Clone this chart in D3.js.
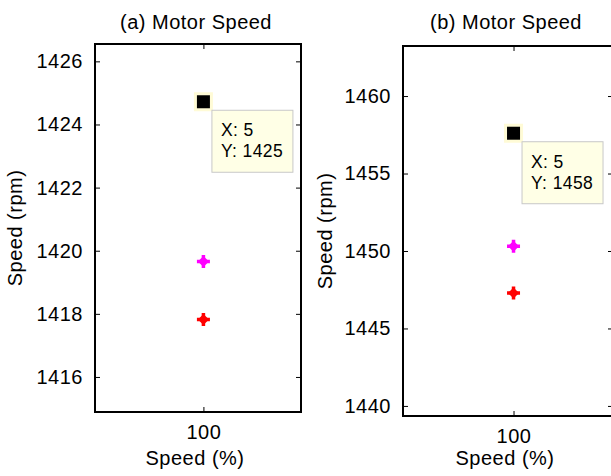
<!DOCTYPE html>
<html>
<head>
<meta charset="utf-8">
<script src="https://cdn.jsdelivr.net/npm/d3@7"></script>
<style>
  html, body { margin: 0; padding: 0; background: #fff; }
  svg { display: block; }
  text { font-family: "Liberation Sans", Arial, sans-serif; fill: #000; }
</style>
</head>
<body>
<svg id="chart" width="611" height="476"></svg>
<script>
// Panel titles and shared axis labels
const titles = ["(a) Motor Speed", "(b) Motor Speed"];
const xLabel = "Speed (%)";
const yLabel = "Speed (rpm)";

// Single x position (speed step 5, shown as 100 %)
const xValue = 5;
const xTickValues = [5];
const xTickLabels = ["100"];

// Measured motor speeds (rpm) per panel
const tipSpeed = [1424.72, 1457.6];      // black square with data tip
const magentaSpeed = [1419.66, 1450.30];
const redSpeed = [1417.82, 1447.29];

// Y axis ranges and ticks per panel
const yDomains = [[1414.89, 1426.55], [1439.35, 1463.23]];
const yTicks = [
  [1416, 1418, 1420, 1422, 1424, 1426],
  [1440, 1445, 1450, 1455, 1460]
];

const xDomain = [4, 5.9];

// Axes boxes for the two panels
const boxes = [
  { left: 95, right: 301, top: 44, bottom: 412, ylabelX: 22 },
  { left: 403, right: 613, top: 46, bottom: 416, ylabelX: 332 }
];

const svg = d3.select("#chart");
const FS = 20, LS = "0.5px";
const fmt = d3.format(".0f");

boxes.forEach((b, i) => {
  const x = d3.scaleLinear().domain(xDomain).range([b.left, b.right]);
  const y = d3.scaleLinear().domain(yDomains[i]).range([b.bottom, b.top]);
  const g = svg.append("g");
  const tickLen = 5;

  // Left axis with labels, ticks pointing inward
  const yAxisL = d3.axisLeft(y).tickValues(yTicks[i]).tickFormat(fmt)
    .tickSizeInner(-tickLen).tickSizeOuter(0).tickPadding(7 + tickLen);
  const gl = g.append("g").attr("transform", `translate(${b.left},0)`).call(yAxisL);
  // Right axis ticks only
  const yAxisR = d3.axisRight(y).tickValues(yTicks[i]).tickFormat("")
    .tickSizeInner(-tickLen).tickSizeOuter(0);
  const gr = g.append("g").attr("transform", `translate(${b.right},0)`).call(yAxisR);
  // Bottom axis with label
  const xAxisB = d3.axisBottom(x).tickValues(xTickValues).tickFormat((d, k) => xTickLabels[k])
    .tickSizeInner(-tickLen).tickSizeOuter(0).tickPadding(8 + tickLen);
  const gb = g.append("g").attr("transform", `translate(0,${b.bottom})`).call(xAxisB);
  // Top axis ticks only
  const xAxisT = d3.axisTop(x).tickValues(xTickValues).tickFormat("")
    .tickSizeInner(-tickLen).tickSizeOuter(0);
  const gt = g.append("g").attr("transform", `translate(0,${b.top})`).call(xAxisT);

  [gl, gr, gb, gt].forEach(a => {
    a.select(".domain").remove();
    a.selectAll(".tick line").attr("stroke", "#000").attr("stroke-width", 1);
    a.selectAll(".tick text").attr("font-size", FS).style("letter-spacing", LS)
      .attr("font-family", "Liberation Sans, Arial, sans-serif").attr("fill", "#000");
  });

  // Axes box
  g.append("rect")
    .attr("x", b.left).attr("y", b.top)
    .attr("width", b.right - b.left).attr("height", b.bottom - b.top)
    .attr("fill", "none").attr("stroke", "#000").attr("stroke-width", 2);

  // Title
  g.append("text").attr("x", (b.left + b.right) / 2 - 2).attr("y", 29)
    .attr("text-anchor", "middle").attr("font-size", FS).style("letter-spacing", LS)
    .text(titles[i]);
  // X label
  g.append("text").attr("x", (b.left + b.right) / 2 - 3).attr("y", 465)
    .attr("text-anchor", "middle").attr("font-size", FS).style("letter-spacing", LS)
    .text(xLabel);
  // Y label
  g.append("text")
    .attr("transform", `translate(${b.ylabelX},${(b.top + b.bottom) / 2}) rotate(-90)`)
    .attr("text-anchor", "middle").attr("font-size", FS).style("letter-spacing", LS)
    .text(yLabel);

  // Plus-style markers
  const plus = (val, color) => {
    const cx = x(xValue), cy = y(val);
    const m = g.append("g").attr("transform", `translate(${cx},${cy})`);
    m.append("path").attr("d", "M-6.5,0H6.5M0,-6.5V6.5")
      .attr("stroke", color).attr("stroke-width", 3.5).attr("fill", "none");
    m.append("path").attr("d", "M0,-5.5L5.5,0L0,5.5L-5.5,0Z").attr("fill", color);
  };
  plus(magentaSpeed[i], "#ff00ff");
  plus(redSpeed[i], "#ff0000");

  // Black square with data-tip highlight
  const sx = x(xValue), sy = y(tipSpeed[i]);
  g.append("rect").attr("x", sx - 9.5).attr("y", sy - 9.5).attr("width", 19).attr("height", 19)
    .attr("fill", "#fffbd6");
  g.append("rect").attr("x", sx - 6.5).attr("y", sy - 6.5).attr("width", 13).attr("height", 13)
    .attr("fill", "#000");

  // Data tip box
  const tx = sx + 8.5, ty = sy + 8.5;
  g.append("rect").attr("x", tx).attr("y", ty).attr("width", 81).attr("height", 62)
    .attr("fill", "#ffffe6").attr("stroke", "#c8c8c8").attr("stroke-width", 1);
  g.append("text").attr("x", tx + 9).attr("y", ty + 26)
    .attr("font-size", 17.5).style("letter-spacing", "0.4px").text("X: " + xValue);
  g.append("text").attr("x", tx + 9).attr("y", ty + 47)
    .attr("font-size", 17.5).style("letter-spacing", "0.4px").text("Y: " + fmt(tipSpeed[i]));
});
</script>
</body>
</html>
